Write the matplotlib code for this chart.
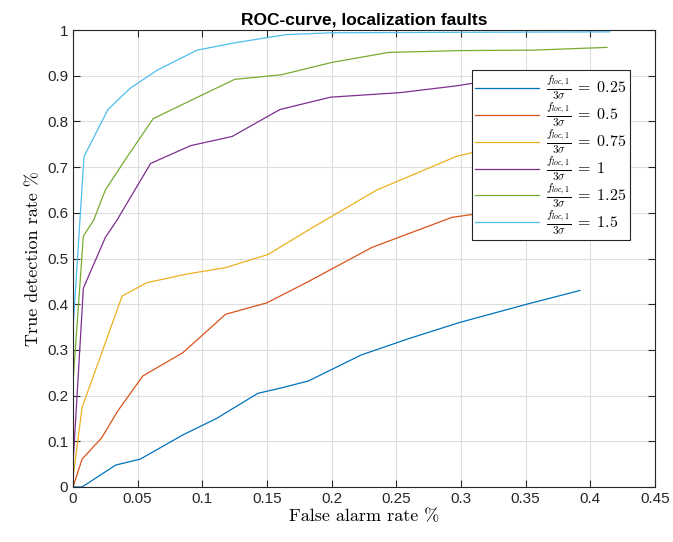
import matplotlib
matplotlib.use("Agg")
import matplotlib.pyplot as plt

# ROC data
fpr_025 = [0.0, 0.007, 0.033, 0.052, 0.085, 0.111, 0.143, 0.160, 0.182, 0.223, 0.260, 0.299, 0.351, 0.392]
tpr_025 = [0.0, 0.0, 0.048, 0.061, 0.114, 0.150, 0.205, 0.216, 0.232, 0.289, 0.325, 0.360, 0.400, 0.430]

fpr_05 = [0.0, 0.007, 0.022, 0.035, 0.054, 0.085, 0.118, 0.150, 0.183, 0.231, 0.293, 0.333, 0.375]
tpr_05 = [0.0, 0.061, 0.107, 0.168, 0.243, 0.294, 0.378, 0.403, 0.451, 0.524, 0.590, 0.606, 0.625]

fpr_075 = [0.0, 0.007, 0.038, 0.057, 0.088, 0.118, 0.151, 0.183, 0.235, 0.297, 0.317, 0.360]
tpr_075 = [0.02, 0.174, 0.418, 0.447, 0.466, 0.480, 0.509, 0.564, 0.650, 0.724, 0.737, 0.755]

fpr_1 = [0.0, 0.008, 0.025, 0.034, 0.060, 0.091, 0.123, 0.160, 0.199, 0.253, 0.297, 0.317, 0.360]
tpr_1 = [0.05, 0.435, 0.546, 0.584, 0.708, 0.747, 0.767, 0.826, 0.853, 0.863, 0.878, 0.887, 0.895]

fpr_125 = [0.0, 0.008, 0.016, 0.025, 0.042, 0.062, 0.097, 0.125, 0.161, 0.200, 0.244, 0.300, 0.356, 0.413]
tpr_125 = [0.23, 0.549, 0.584, 0.650, 0.723, 0.806, 0.854, 0.892, 0.902, 0.929, 0.951, 0.955, 0.956, 0.962]

fpr_15 = [0.0, 0.0085, 0.027, 0.044, 0.065, 0.096, 0.125, 0.165, 0.200, 0.300, 0.415]
tpr_15 = [0.347, 0.723, 0.826, 0.872, 0.912, 0.956, 0.972, 0.990, 0.994, 0.995, 0.996]

ratios = ["0.25", "0.5", "0.75", "1", "1.25", "1.5"]
colors = ["#0072BD", "#D95319", "#EDB120", "#7E2F8E", "#77AC30", "#4DBEEE"]

curves = [(fpr_025, tpr_025), (fpr_05, tpr_05), (fpr_075, tpr_075),
          (fpr_1, tpr_1), (fpr_125, tpr_125), (fpr_15, tpr_15)]

plt.rcParams["mathtext.fontset"] = "cm"

fig = plt.figure(figsize=(6.73, 5.42), dpi=100)
ax = fig.add_axes([0.1085, 0.1015, 0.8645, 0.8431])

for (x, y), r, c in zip(curves, ratios, colors):
    ax.plot(x, y, color=c, lw=0.9,
            label=r"$\frac{f_{loc,1}}{3\sigma}\;=\;%s$" % r)

ax.set_xlim(0, 0.45)
ax.set_ylim(0, 1)
ax.set_xticks([0, 0.05, 0.1, 0.15, 0.2, 0.25, 0.3, 0.35, 0.4, 0.45])
ax.set_xticklabels(["0", "0.05", "0.1", "0.15", "0.2", "0.25", "0.3", "0.35", "0.4", "0.45"])
ax.set_yticks([0, 0.1, 0.2, 0.3, 0.4, 0.5, 0.6, 0.7, 0.8, 0.9, 1])
ax.set_yticklabels(["0", "0.1", "0.2", "0.3", "0.4", "0.5", "0.6", "0.7", "0.8", "0.9", "1"])

ax.grid(True, color="#dfdfdf", lw=0.8)
ax.set_axisbelow(True)
ax.tick_params(direction="in", top=True, right=True, length=5, width=0.8,
               colors="#262626", labelsize=11)
for lbl in ax.get_xticklabels() + ax.get_yticklabels():
    lbl.set_fontfamily("Liberation Sans")
for s in ax.spines.values():
    s.set_color("#262626")
    s.set_linewidth(0.8)

ax.set_title("ROC-curve, localization faults", fontsize=12.5, fontweight="bold",
             family="Liberation Sans", pad=4)
ax.set_xlabel("False alarm rate %", family="cmr10", fontsize=13, labelpad=2)
ax.set_ylabel("True detection rate %", family="cmr10", fontsize=13, labelpad=4)

leg = ax.legend(loc="upper right", bbox_to_anchor=(0.957, 0.912), fontsize=11.5,
                fancybox=False, edgecolor="#262626", framealpha=1,
                handlelength=4.0, labelspacing=-0.12, borderpad=0.2,
                handletextpad=0.45, borderaxespad=0)
leg.get_frame().set_linewidth(0.8)

fig.savefig("out.png", dpi=100)
